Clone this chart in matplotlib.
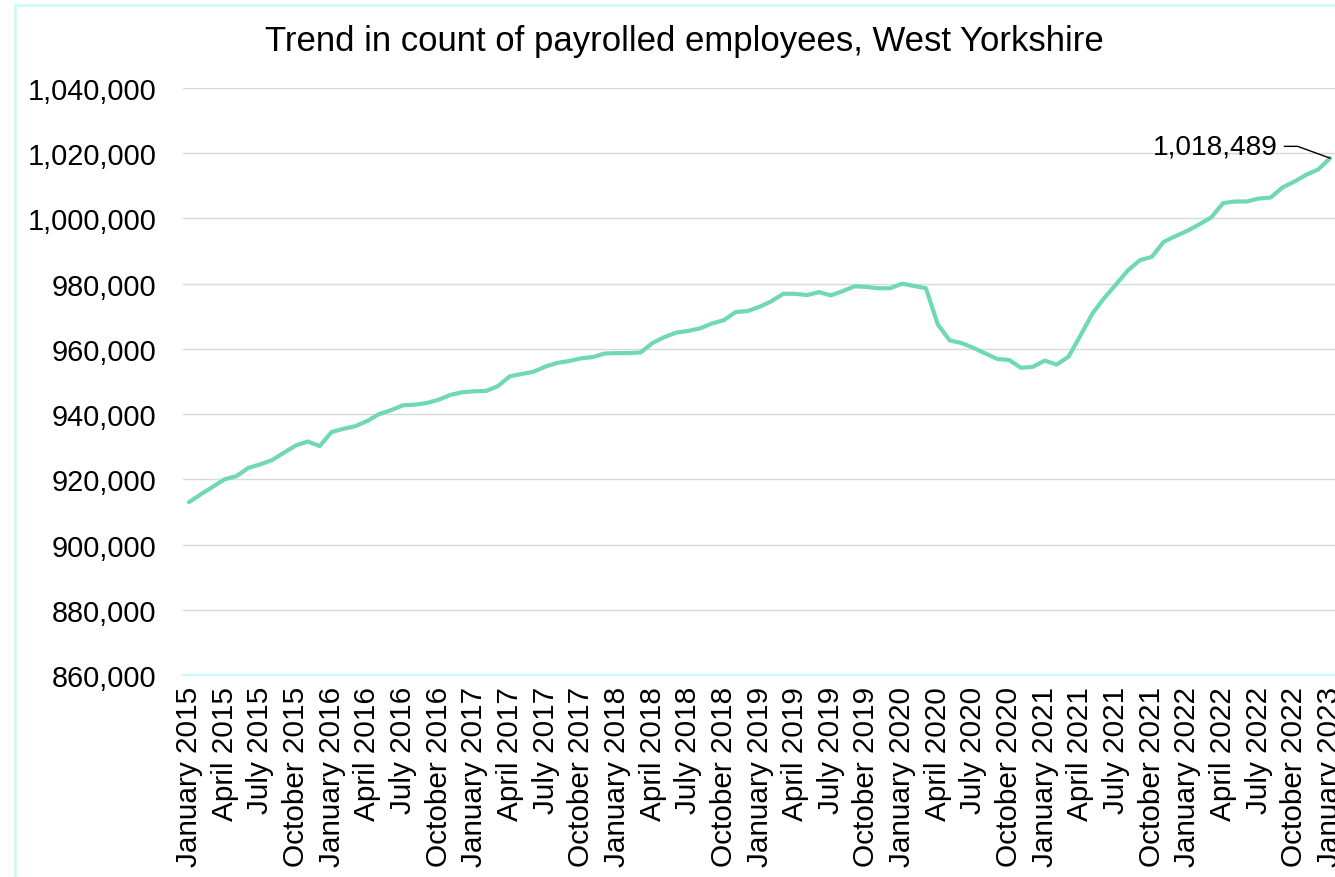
#!/usr/bin/env python3
import matplotlib
matplotlib.use("Agg")
import matplotlib.pyplot as plt
from matplotlib.patches import Rectangle
from matplotlib.ticker import FuncFormatter

plt.rcParams['font.family'] = ['Liberation Sans', 'DejaVu Sans']

# monthly payrolled employees, January 2015 .. January 2023
MONTH_NAMES = ["January", "February", "March", "April", "May", "June", "July",
               "August", "September", "October", "November", "December"]
YEARS = list(range(2015, 2024))

EMPLOYEES = [
    913000, 915400, 917700, 920000, 921000, 923500, 924600, 925900, 928200, 930400, 931600, 930200,  # 2015
    934500, 935500, 936300, 937900, 940000, 941200, 942700, 942900, 943400, 944400, 945900, 946700,  # 2016
    947000, 947100, 948600, 951600, 952300, 953000, 954600, 955700, 956300, 957100, 957500, 958600,  # 2017
    958700, 958700, 958900, 961800, 963600, 965000, 965500, 966300, 967800, 968800, 971300, 971600,  # 2018
    972900, 974600, 976900, 976900, 976500, 977400, 976400, 977700, 979200, 979000, 978600, 978600,  # 2019
    980000, 979300, 978600, 967500, 962600, 961800, 960300, 958600, 956900, 956600, 954200, 954500,  # 2020
    956400, 955200, 957600, 964100, 970800, 975600, 979800, 984100, 987200, 988200, 992800, 994600,  # 2021
    996200, 998200, 1000300, 1004700, 1005200, 1005200, 1006100, 1006400, 1009500, 1011300, 1013400, 1015000,  # 2022
    1018489,  # January 2023
]

LABELS = [f"{MONTH_NAMES[i % 12]} {YEARS[i // 12]}" for i in range(len(EMPLOYEES))]
Y_TICKS = list(range(860000, 1040001, 20000))

LINE_COLOUR = "#70d9b3"
CYAN = "#c6f9f9"

fig = plt.figure(figsize=(13.35, 8.78), dpi=100)
ax = fig.add_axes([183 / 1335, 1 - 676 / 878, (1336 - 183) / 1335, (676 - 89) / 878])

x = list(range(len(EMPLOYEES)))
ax.plot(x, EMPLOYEES, color=LINE_COLOUR, lw=3.0, solid_joinstyle='round', solid_capstyle='round')

ax.set_xlim(-0.5, len(EMPLOYEES) - 0.5)
ax.set_ylim(Y_TICKS[0], Y_TICKS[-1])
ax.set_yticks(Y_TICKS)
ax.yaxis.set_major_formatter(FuncFormatter(lambda v, p: f"{int(v):,}"))
ax.set_xticks(x[::3])
ax.set_xticklabels(LABELS[::3], rotation=90, ha='center', va='top')

ax.tick_params(axis='y', length=0, pad=19, labelsize=20.8)
ax.tick_params(axis='x', length=0, pad=8, labelsize=21.4)
ax.grid(axis='y', color='#d9d9d9', lw=1.0)
ax.set_axisbelow(True)
for s in ['left', 'right', 'top']:
    ax.spines[s].set_visible(False)
ax.spines['bottom'].set_color(CYAN)
ax.spines['bottom'].set_linewidth(1.5)

# label the last value
ax.annotate(f"{EMPLOYEES[-1]:,}", xy=(x[-1], EMPLOYEES[-1]), xytext=(-38, 8.5),
            textcoords='offset points', ha='right', va='center', fontsize=20.2,
            arrowprops=dict(arrowstyle='-', color='black', lw=1.0, shrinkA=3, shrinkB=0,
                            connectionstyle="angle,angleA=0,angleB=160,rad=0"),
            annotation_clip=False)

fig.text(684 / 1335, 1 - 42 / 878, "Trend in count of payrolled employees, West Yorkshire",
         ha='center', va='center', fontsize=25)

# chart area border (cropped at right and bottom in the original)
fig.patches.append(Rectangle((15 / 1335, -0.1), 1.2, 1 - 6 / 878 + 0.1, transform=fig.transFigure,
                             fill=False, edgecolor=CYAN, lw=1.8))

plt.savefig('out.png')
